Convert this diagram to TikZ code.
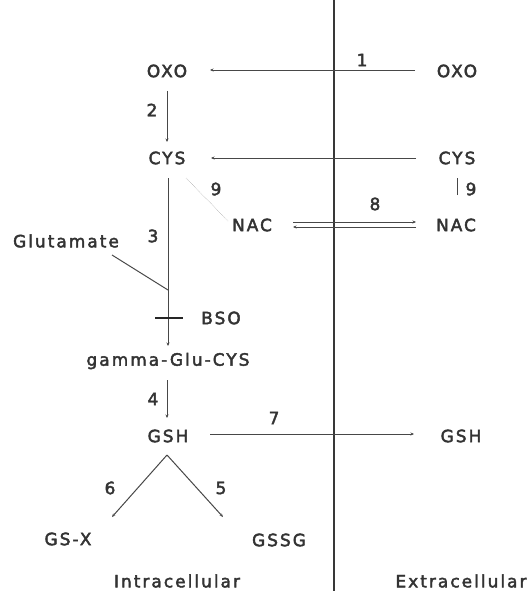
\documentclass[tikz,border=0pt]{standalone}
\usepackage{fontspec}
\setmainfont{DejaVu Sans}[LetterSpace=12, FakeBold=2.5]
\usetikzlibrary{arrows.meta}
\begin{document}
\begin{tikzpicture}[x=1bp,y=-1bp,
  lbl/.style={font=\fontsize{17}{19}\selectfont, text=black!80, inner sep=0pt},
  num/.style={font=\fontsize{17}{19}\selectfont, text=black!80, inner sep=0pt},
  conn/.style={draw=black!72, line width=1pt},
  arr/.style={conn, -{Stealth[length=3.5pt,width=3pt]}},
  membrane/.style={draw=black!78, line width=1.3pt}]
\useasboundingbox (0,0) rectangle (530,597);
% membrane
\coordinate (mtop) at (334,0);
\coordinate (mbot) at (334,591);
\draw[membrane] (mtop) -- (mbot);
% nodes
\node[lbl] (oxoL) at (167,71) {OXO};
\node[lbl] (oxoR) at (457,71) {OXO};
\node[lbl] (cysL) at (167,158) {CYS};
\node[lbl] (cysR) at (457,158) {CYS};
\node[lbl] (nacL) at (252,225) {NAC};
\node[lbl] (nacR) at (456,225) {NAC};
\node[lbl] (glu) at (66,241) {Glutamate};
\node[lbl] (bso) at (221,318) {BSO};
\node[lbl] (ggc) at (168,361) {gamma-Glu-CYS};
\node[lbl] (gshL) at (168,436) {GSH};
\node[lbl] (gshR) at (461,436) {GSH};
\node[lbl] (gsx) at (68,539) {GS-X};
\node[lbl] (gssg) at (279,540) {GSSG};
\node[lbl] (intra) at (177,581) {Intracellular};
\node[lbl] (extra) at (461,581) {Extracellular};
% numbers
\node[num] (n1) at (362,60) {1};
\node[num] (n2) at (152,110) {2};
\node[num] (n3) at (153,236) {3};
\node[num] (n4) at (153,399) {4};
\node[num] (n5) at (221,488) {5};
\node[num] (n6) at (110,488) {6};
\node[num] (n7) at (274,418) {7};
\node[num] (n8) at (375,204) {8};
\node[num] (n9a) at (216,189) {9};
\node[num] (n9b) at (471,189) {9};
% connectors
\coordinate (a1s) at (415,70); \coordinate (a1e) at (210,70);
\draw[arr] (a1s) -- (a1e);
\coordinate (a2s) at (167,91); \coordinate (a2e) at (167,142);
\draw[arr] (a2s) -- (a2e);
\coordinate (acs) at (416,158); \coordinate (ace) at (211,158);
\draw[arr] (acs) -- (ace);
\coordinate (a9s) at (457,195); \coordinate (a9e) at (457,178);
\draw[conn] (a9s) -- (a9e);
\coordinate (d9s) at (186,178); \coordinate (d9e) at (228,221);
\draw[draw=black!40, line width=0.5pt, densely dotted] (d9s) -- (d9e);
\coordinate (a8us) at (293,222); \coordinate (a8ue) at (416,222);
\draw[arr] (a8us) -- (a8ue);
\coordinate (a8ls) at (416,227); \coordinate (a8le) at (293,227);
\draw[arr] (a8ls) -- (a8le);
\coordinate (a3s) at (168,178); \coordinate (a3e) at (168,346);
\draw[arr] (a3s) -- (a3e);
\coordinate (glus) at (112,255); \coordinate (glue) at (168,290);
\draw[conn] (glus) -- (glue);
\coordinate (bsoL) at (155,318); \coordinate (bsoR) at (183,318);
\draw[draw=black!85, line width=3pt] (bsoL) -- (bsoR);
\coordinate (a4s) at (167,380); \coordinate (a4e) at (167,418);
\draw[arr] (a4s) -- (a4e);
\coordinate (a7s) at (210,434); \coordinate (a7e) at (414,434);
\draw[arr] (a7s) -- (a7e);
\coordinate (gt) at (167,455);
\coordinate (a6e) at (112,517); \coordinate (a5e) at (223,517);
\draw[arr] (gt) -- (a6e);
\draw[arr] (gt) -- (a5e);
\end{tikzpicture}
\end{document}
